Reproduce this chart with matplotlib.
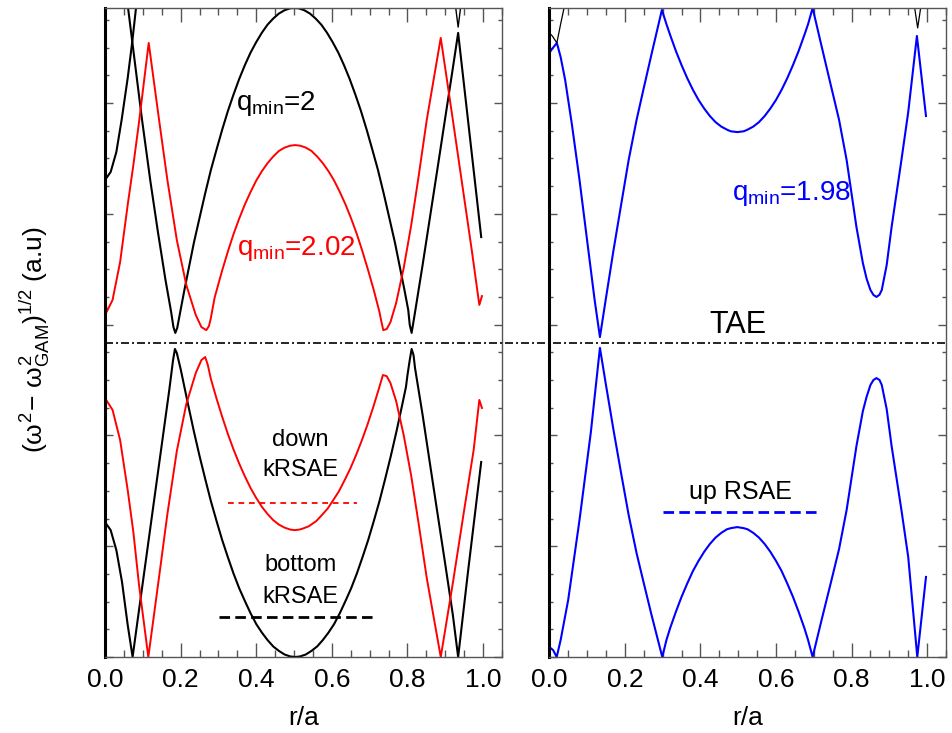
import matplotlib
matplotlib.use('Agg')
import matplotlib.pyplot as plt
from matplotlib.ticker import MultipleLocator
from matplotlib.lines import Line2D
import matplotlib.transforms as mtransforms

plt.rcParams['font.family'] = ['Liberation Sans', 'DejaVu Sans']
plt.rcParams['mathtext.fontset'] = 'custom'
plt.rcParams['mathtext.rm'] = 'Liberation Sans'
plt.rcParams['mathtext.it'] = 'Liberation Sans'
plt.rcParams['mathtext.bf'] = 'Liberation Sans:bold'

# ---------------- data (r/a, (w^2 - w_GAM^2)^1/2 in a.u.) ----------------
# left panel, q_min = 2 (black)
blk_up_a_r = [0, 0.015, 0.03, 0.044, 0.06, 0.072, 0.082, 0.095]
blk_up_a_v = [17.22, 17.51, 18.23, 19.39, 20.90, 22.20, 23.43, 24.80]

blk_up_b_r = [0.05, 0.061, 0.098, 0.12, 0.14, 0.16, 0.175, 0.181, 0.186, 0.191,
              0.20, 0.21, 0.22, 0.235, 0.25, 0.265, 0.28, 0.295, 0.31, 0.325,
              0.34, 0.355, 0.37, 0.385, 0.40, 0.415, 0.43, 0.445, 0.46, 0.475,
              0.49, 0.501, 0.512, 0.527, 0.542, 0.557, 0.572, 0.587, 0.602, 0.617,
              0.632, 0.647, 0.662, 0.677, 0.692, 0.707, 0.722, 0.737, 0.752, 0.767,
              0.782, 0.792, 0.802, 0.806, 0.811, 0.82, 0.84, 0.86, 0.88, 0.899,
              0.92, 0.934, 0.96, 0.995]
blk_up_b_v = [24.62, 23.43, 19.39, 17.18, 15.34, 13.61, 12.45, 11.91, 11.70, 11.88,
              12.53, 13.25, 13.93, 14.95, 15.85, 16.74, 17.58, 18.32, 19.04, 19.71,
              20.31, 20.87, 21.37, 21.82, 22.20, 22.54, 22.83, 23.05, 23.23, 23.35,
              23.42, 23.43, 23.42, 23.35, 23.23, 23.05, 22.83, 22.54, 22.20, 21.82,
              21.37, 20.87, 20.31, 19.71, 19.04, 18.32, 17.58, 16.74, 15.85, 14.95,
              13.93, 13.25, 12.53, 11.99, 11.70, 12.45, 14.15, 15.92, 17.69, 19.39,
              21.26, 22.53, 19.39, 15.16]

blk_top_v_r = [0.92, 0.934, 0.948]
blk_top_v_v = [24.26, 22.74, 24.26]

blk_lo_r = [0, 0.015, 0.03, 0.045, 0.06, 0.073, 0.09, 0.11, 0.13, 0.15,
            0.17, 0.18, 0.185, 0.19, 0.20, 0.21, 0.22, 0.235, 0.25, 0.265,
            0.28, 0.295, 0.31, 0.325, 0.34, 0.355, 0.37, 0.385, 0.40, 0.415,
            0.43, 0.445, 0.46, 0.475, 0.49, 0.503, 0.516, 0.531, 0.546, 0.561,
            0.576, 0.591, 0.606, 0.621, 0.636, 0.651, 0.666, 0.681, 0.696, 0.711,
            0.726, 0.741, 0.756, 0.771, 0.786, 0.796, 0.80, 0.806, 0.811, 0.816,
            0.82, 0.84, 0.86, 0.88, 0.899, 0.92, 0.934, 0.96, 0.995]
blk_lo_v = [4.87, 4.58, 3.86, 2.71, 1.16, 0, 1.70, 3.68, 5.67, 7.65,
            9.64, 10.72, 11.12, 10.97, 10.40, 9.75, 9.10, 8.15, 7.26, 6.43,
            5.63, 4.91, 4.22, 3.60, 3.01, 2.48, 2.02, 1.58, 1.19, 0.88,
            0.61, 0.38, 0.22, 0.09, 0.02, 0, 0.02, 0.09, 0.22, 0.38,
            0.61, 0.88, 1.19, 1.58, 2.02, 2.48, 3.01, 3.60, 4.22, 4.91,
            5.63, 6.43, 7.26, 8.15, 9.10, 9.75, 10.18, 10.72, 11.12, 10.90,
            10.43, 8.74, 6.93, 5.13, 3.43, 1.52, 0, 3.07, 7.04]

# left panel, q_min = 2.02 (red)
red_up_r = [0, 0.004, 0.02, 0.04, 0.06, 0.075, 0.09, 0.1156, 0.143, 0.165,
            0.19, 0.215, 0.24, 0.255, 0.268, 0.275, 0.28, 0.29, 0.31, 0.325,
            0.34, 0.355, 0.37, 0.385, 0.40, 0.415, 0.43, 0.445, 0.46, 0.475,
            0.49, 0.503, 0.516, 0.531, 0.546, 0.561, 0.576, 0.591, 0.606, 0.621,
            0.636, 0.651, 0.666, 0.681, 0.696, 0.711, 0.726, 0.73, 0.736, 0.745,
            0.755, 0.77, 0.79, 0.81, 0.83, 0.851, 0.888, 0.92, 0.95, 0.97,
            0.99, 0.997]
red_up_v = [13.32, 12.45, 12.89, 14.26, 16.32, 17.76, 19.31, 22.17, 19.39, 17.22,
            15.05, 13.43, 12.35, 11.91, 11.80, 11.95, 12.24, 12.98, 13.96, 14.64,
            15.27, 15.83, 16.34, 16.79, 17.20, 17.54, 17.83, 18.07, 18.27, 18.39,
            18.46, 18.48, 18.46, 18.39, 18.27, 18.07, 17.83, 17.54, 17.20, 16.79,
            16.34, 15.83, 15.27, 14.64, 13.96, 13.24, 12.45, 12.17, 11.80, 11.84,
            12.09, 12.78, 14.04, 15.60, 17.40, 19.39, 22.35, 19.39, 16.57, 14.69,
            12.71, 13.03]

red_lo_r = [0, 0.02, 0.04, 0.06, 0.075, 0.09, 0.1146, 0.143, 0.165, 0.19,
            0.215, 0.24, 0.255, 0.265, 0.272, 0.28, 0.295, 0.31, 0.325, 0.34,
            0.355, 0.37, 0.385, 0.40, 0.415, 0.43, 0.445, 0.46, 0.475, 0.49,
            0.502, 0.514, 0.524, 0.539, 0.559, 0.574, 0.589, 0.604, 0.619, 0.634,
            0.649, 0.664, 0.679, 0.694, 0.709, 0.724, 0.735, 0.745, 0.755, 0.77,
            0.79, 0.81, 0.83, 0.851, 0.888, 0.92, 0.95, 0.975, 0.99, 0.997]
red_lo_v = [9.35, 8.92, 7.83, 6.03, 4.51, 2.60, 0, 2.89, 5.16, 7.44,
            9.13, 10.25, 10.72, 10.83, 10.54, 10.04, 9.33, 8.67, 8.05, 7.49,
            6.98, 6.52, 6.10, 5.74, 5.42, 5.16, 4.94, 4.78, 4.67, 4.60,
            4.58, 4.60, 4.64, 4.72, 4.91, 5.13, 5.36, 5.67, 5.99, 6.39,
            6.81, 7.29, 7.81, 8.38, 9.00, 9.67, 10.18, 10.14, 9.89, 9.24,
            8.01, 6.53, 4.77, 2.85, 0, 2.67, 5.31, 7.47, 9.28, 8.99]

# right panel, q_min = 1.98 (blue)
blu_up_r = [0, 0.005, 0.02, 0.03, 0.042, 0.06, 0.08, 0.10, 0.12, 0.134,
            0.15, 0.17, 0.19, 0.21, 0.231, 0.25, 0.27, 0.298, 0.31, 0.32,
            0.335, 0.35, 0.365, 0.38, 0.395, 0.41, 0.425, 0.44, 0.455, 0.47,
            0.48, 0.4975, 0.515, 0.525, 0.54, 0.555, 0.57, 0.585, 0.60, 0.615,
            0.63, 0.645, 0.66, 0.675, 0.685, 0.697, 0.72, 0.745, 0.767, 0.787,
            0.813, 0.83, 0.84, 0.85, 0.858, 0.866, 0.874, 0.88, 0.893, 0.906,
            0.932, 0.95, 0.973, 0.997]
blu_up_v = [21.80, 21.91, 22.17, 21.66, 20.83, 19.21, 17.22, 15.05, 12.89, 11.55,
            12.96, 14.69, 16.32, 17.94, 19.39, 20.54, 21.73, 23.36, 22.85, 22.45,
            21.88, 21.37, 20.90, 20.48, 20.11, 19.80, 19.53, 19.31, 19.15, 19.04,
            18.98, 18.95, 18.98, 19.04, 19.15, 19.31, 19.53, 19.80, 20.11, 20.48,
            20.90, 21.37, 21.88, 22.45, 22.85, 23.43, 22.09, 20.65, 19.39, 17.94,
            15.52, 14.22, 13.65, 13.25, 13.07, 13.00, 13.08, 13.25, 14.15, 15.52,
            17.94, 19.67, 22.42, 19.53]

blu_lo_r = [0, 0.01, 0.0196, 0.03, 0.05, 0.08, 0.11, 0.134, 0.15, 0.17,
            0.19, 0.21, 0.231, 0.25, 0.27, 0.299, 0.31, 0.32, 0.335, 0.35,
            0.365, 0.38, 0.395, 0.41, 0.425, 0.44, 0.455, 0.47, 0.48, 0.4975,
            0.515, 0.525, 0.54, 0.555, 0.57, 0.585, 0.60, 0.615, 0.63, 0.645,
            0.66, 0.675, 0.685, 0.697, 0.72, 0.745, 0.767, 0.787, 0.813, 0.83,
            0.84, 0.85, 0.858, 0.866, 0.874, 0.88, 0.893, 0.906, 0.932, 0.95,
            0.974, 0.997]
blu_lo_v = [0.36, 0.25, 0, 0.61, 2.06, 4.95, 8.12, 11.16, 9.82, 8.19,
            6.64, 5.13, 3.75, 2.67, 1.55, 0, 0.61, 1.05, 1.63, 2.17,
            2.65, 3.10, 3.47, 3.80, 4.08, 4.31, 4.48, 4.61, 4.65, 4.69,
            4.65, 4.61, 4.48, 4.31, 4.08, 3.80, 3.47, 3.10, 2.65, 2.17,
            1.63, 1.05, 0.61, 0, 1.30, 2.67, 3.90, 5.31, 7.62, 8.88,
            9.40, 9.82, 10.00, 10.07, 10.00, 9.82, 8.95, 7.62, 5.31, 3.61,
            0, 2.89]

# thin black pieces in right panel
rblk_a_r = [0, 0.008, 0.02, 0.03, 0.039, 0.047]
rblk_a_v = [22.53, 22.42, 22.17, 22.85, 23.43, 24.44]
rblk_b_r = [0.96, 0.975, 0.99]
rblk_b_v = [24.08, 22.71, 24.08]

# horizontal reference levels
tae_level = 11.34
down_krsae_r, down_krsae_v = [0.325, 0.667], 5.56
bottom_krsae_r, bottom_krsae_v = [0.302, 0.717], 1.44
up_rsae_r, up_rsae_v = [0.301, 0.716], 5.23

x_ticks = [0.0, 0.2, 0.4, 0.6, 0.8, 1.0]
x_ticklabels = ['0.0', '0.2', '0.4', '0.6', '0.8', '1.0']
YMAX = 23.43

# ---------------- figure ----------------
W, H = 953, 733
fig = plt.figure(figsize=(W / 100, H / 100), dpi=100)
ax1 = fig.add_axes([105 / W, 1 - 657 / H, 397 / W, 649 / H])
ax2 = fig.add_axes([549.3 / W, 1 - 657 / H, 396.7 / W, 649 / H])

spine_col = '#555555'
for ax in (ax1, ax2):
    ax.set_xlim(0, 1.05)
    ax.set_ylim(0, YMAX)
    ax.set_xticks(x_ticks)
    ax.set_xticklabels(x_ticklabels)
    ax.xaxis.set_minor_locator(MultipleLocator(0.05))
    ax.yaxis.set_major_locator(MultipleLocator(4))
    ax.yaxis.set_minor_locator(MultipleLocator(1))
    ax.set_yticklabels([])
    ax.tick_params(which='both', direction='in', top=True, right=True,
                   color=spine_col, labelsize=19, pad=8)
    ax.tick_params(axis='x', which='major', length=10, width=1)
    ax.tick_params(axis='x', which='minor', length=5, width=1)
    ax.tick_params(axis='y', which='major', length=6, width=1)
    ax.tick_params(axis='y', which='minor', length=3, width=1)
    for s in ('top', 'right', 'bottom'):
        ax.spines[s].set_color(spine_col)
        ax.spines[s].set_linewidth(1)
    ax.spines['left'].set_color('black')
    ax.spines['left'].set_linewidth(2.2)
    ax.set_xlabel('r/a', fontsize=19, labelpad=10)

# left panel curves
ax1.plot(blk_up_a_r, blk_up_a_v, color='black', lw=1.5)
ax1.plot(blk_up_b_r, blk_up_b_v, color='black', lw=1.5)
ax1.plot(blk_top_v_r, blk_top_v_v, color='black', lw=1.0)
ax1.plot(blk_lo_r, blk_lo_v, color='black', lw=1.5)
ax1.plot(red_up_r, red_up_v, color='#ff0000', lw=1.4)
ax1.plot(red_lo_r, red_lo_v, color='#ff0000', lw=1.4)

ax1.plot(down_krsae_r, [down_krsae_v] * 2, color='#ff0000', lw=1.3,
         dashes=(3.2, 2.6))
ax1.plot(bottom_krsae_r, [bottom_krsae_v] * 2, color='black', lw=2.0,
         dashes=(3.8, 1.9))

ax1.text(0.347, 19.75, r'q$_{\rm min}$=2', color='black', fontsize=20,
         ha='left', va='baseline')
ax1.text(0.349, 14.51, r'q$_{\rm min}$=2.02', color='#ff0000', fontsize=20,
         ha='left', va='baseline')
ax1.text(0.516, 7.83, 'down', fontsize=17, ha='center', va='center')
ax1.text(0.516, 6.75, 'kRSAE', fontsize=17, ha='center', va='center')
ax1.text(0.516, 3.32, 'bottom', fontsize=17, ha='center', va='center')
ax1.text(0.516, 2.17, 'kRSAE', fontsize=17, ha='center', va='center')

# right panel curves
ax2.plot(blu_up_r, blu_up_v, color='#0000ff', lw=1.5)
ax2.plot(blu_lo_r, blu_lo_v, color='#0000ff', lw=1.5)
ax2.plot(rblk_a_r, rblk_a_v, color='black', lw=0.9)
ax2.plot(rblk_b_r, rblk_b_v, color='black', lw=0.9)
ax2.plot(up_rsae_r, [up_rsae_v] * 2, color='#0000ff', lw=2.0,
         dashes=(3.8, 1.9))

ax2.text(0.483, 16.50, r'q$_{\rm min}$=1.98', color='#0000ff', fontsize=20,
         ha='left', va='baseline')
ax2.text(0.50, 11.70, 'TAE', fontsize=22, ha='center', va='baseline')
ax2.text(0.505, 5.96, 'up RSAE', fontsize=18, ha='center', va='center')

# TAE dash-dot line across both panels
trans = mtransforms.blended_transform_factory(fig.transFigure, ax1.transData)
fig.add_artist(Line2D([105 / W, 946 / W], [tae_level, tae_level], transform=trans,
                      color='black', lw=1.2, dashes=(4.8, 1.8, 1.2, 1.8)))

fig.text(35 / W, 1 - 340 / H, r'$(\omega^2\!-\,\omega^2_{\rm GAM})^{1/2}$ (a.u)',
         rotation=90, fontsize=19, ha='center', va='center')

fig.savefig('out.png', dpi=100)
